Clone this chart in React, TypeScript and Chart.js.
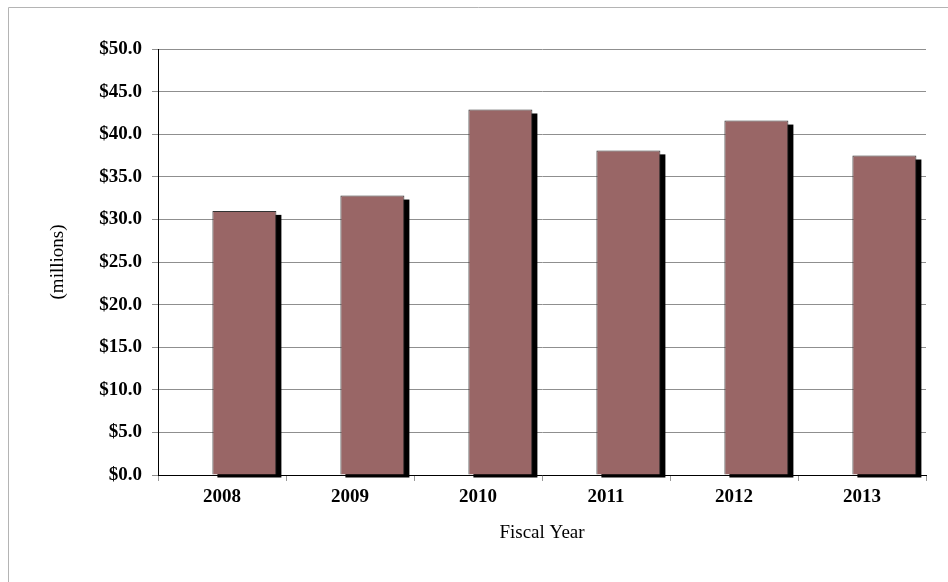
import React, { useEffect, useRef } from "react";
import { Chart, registerables } from "chart.js";

Chart.register(...registerables);

const categories = ["2008", "2009", "2010", "2011", "2012", "2013"];
const revenue = [31.0, 32.8, 42.9, 38.1, 41.6, 37.5];
const yTicks = [0, 5, 10, 15, 20, 25, 30, 35, 40, 45, 50];

const FONT = "'Liberation Serif', 'Times New Roman', serif";
const BAR_SHIFT = 0.175; // bars sit to the right of category centre, as in the original

const shadowPlugin = {
  id: "barShadow",
  beforeDatasetsDraw(chart: any) {
    const meta = chart.getDatasetMeta(0);
    const ctx = chart.ctx;
    ctx.save();
    ctx.fillStyle = "#000000";
    meta.data.forEach((el: any) => {
      const w = el.width;
      ctx.fillRect(el.x - w / 2 + 5, el.y + 4, w, el.base - el.y - 1);
    });
    ctx.restore();
  },
};

const framePlugin = {
  id: "frame",
  afterDraw(chart: any) {
    const ctx = chart.ctx;
    ctx.save();
    ctx.strokeStyle = "#b4b4b4";
    ctx.lineWidth = 1;
    ctx.beginPath();
    ctx.moveTo(0.5, chart.height);
    ctx.lineTo(0.5, 0.5);
    ctx.lineTo(chart.width, 0.5);
    ctx.stroke();
    ctx.restore();
  },
};

export default function App() {
  const ref = useRef<HTMLCanvasElement | null>(null);

  useEffect(() => {
    if (!ref.current) return;
    const chart = new Chart(ref.current, {
      type: "bar",
      data: {
        labels: categories,
        datasets: [
          {
            label: "Fiscal Year",
            data: revenue.map((v, i) => ({ x: i, y: v })),
            xAxisID: "xb",
            backgroundColor: "#996666",
            borderColor: "#333333",
            borderWidth: 1,
            barPercentage: 0.5,
            categoryPercentage: 1,
          } as any,
        ],
      },
      options: {
        responsive: false,
        animation: false,
        layout: { padding: { left: 35, top: 42, right: 22, bottom: 34 } },
        plugins: { legend: { display: false }, tooltip: { enabled: false } },
        scales: {
          x: {
            type: "category",
            labels: categories,
            offset: true,
            grid: {
              display: true,
              offset: true,
              drawOnChartArea: false,
              drawTicks: true,
              tickLength: 6,
              color: "#999999",
            },
            border: { display: true, color: "#000000", width: 1 },
            ticks: {
              color: "#000000",
              padding: 5,
              font: { family: FONT, size: 19, weight: "bold" },
            },
            title: {
              display: true,
              text: "Fiscal Year",
              color: "#000000",
              font: { family: FONT, size: 19, weight: "normal" },
            },
            afterFit: (s: any) => {
              s.height = 73;
            },
          },
          xb: {
            type: "linear",
            display: false,
            offset: false,
            bounds: "data",
            min: -0.5 - BAR_SHIFT,
            max: categories.length - 0.5 - BAR_SHIFT,
            grid: { offset: false },
            afterBuildTicks: (s: any) => {
              s.ticks = categories.map((_, i) => ({ value: i }));
            },
          } as any,
          y: {
            min: 0,
            max: 50,
            afterBuildTicks: (s: any) => {
              s.ticks = yTicks.map((v) => ({ value: v }));
            },
            grid: {
              color: "#8f8f8f",
              lineWidth: 1,
              drawTicks: true,
              tickLength: 6,
            },
            border: { display: true, color: "#000000", width: 1 },
            ticks: {
              color: "#000000",
              padding: 10,
              font: { family: FONT, size: 19, weight: "bold" },
              callback: (v: any) => "$" + Number(v).toFixed(1),
            },
            title: {
              display: true,
              text: "(millions)",
              color: "#000000",
              font: { family: FONT, size: 19, weight: "normal" },
            },
            afterFit: (s: any) => {
              s.width = 115;
            },
          },
        },
      },
      plugins: [shadowPlugin, framePlugin],
    });
    return () => chart.destroy();
  }, []);

  return (
    <div style={{ position: "fixed", left: 8, top: 7, width: 940, height: 575, background: "#ffffff" }}>
      <canvas ref={ref} width={940} height={575} style={{ display: "block" }} />
    </div>
  );
}
